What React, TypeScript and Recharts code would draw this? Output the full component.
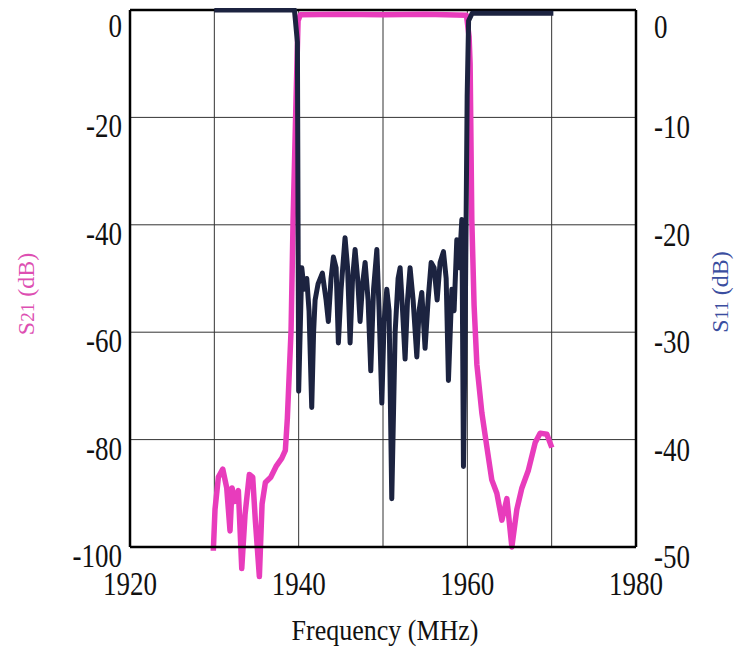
import { LineChart, Line, XAxis, YAxis, CartesianGrid, ReferenceLine } from 'recharts';

// S21 (magenta, left axis, dB)
const s21Freq = [
  1929.88, 1930.08, 1930.48, 1931.0, 1931.47, 1931.86, 1932.1, 1932.46, 1932.85, 1933.25,
  1933.64, 1934.15, 1934.55, 1934.86, 1935.34, 1935.66, 1936.05, 1936.69, 1937.32, 1937.99,
  1938.42, 1938.66, 1939.1, 1939.34, 1939.69, 1939.93, 1940.2, 1945, 1950, 1955,
  1959.9, 1960.21, 1960.33, 1960.53, 1960.8, 1961.13, 1961.72, 1962.31, 1962.9, 1963.5,
  1964.1, 1964.69, 1965.28, 1965.87, 1966.47, 1967.24, 1968.04, 1968.63, 1969.43, 1970.02,
];
const s21Db = [
  -100.7, -93, -87, -85.5, -89, -97, -89, -91.5, -89.5, -104,
  -94, -86.5, -87, -95, -105.5, -92, -88, -87, -85, -83.5,
  -82, -76, -59.6, -39, -16.7, -2, -0.9, -0.8, -0.9, -0.8,
  -1, -5, -10, -39, -55, -66, -75, -81.3, -87.5, -90,
  -95, -91, -100, -93, -89, -85.7, -80.6, -78.8, -79, -81.5,
];

// S11 (navy, right axis, dB)
const s11Freq = [
  1930.0, 1939.5, 1939.85, 1940.0, 1940.37, 1940.64, 1940.96, 1941.23, 1941.55, 1941.77,
  1941.95, 1942.3, 1942.81, 1943.25, 1943.52, 1943.84, 1944.12, 1944.44, 1944.71, 1945.03,
  1945.5, 1945.8, 1946.1, 1946.39, 1946.69, 1946.99, 1947.28, 1947.58, 1947.88, 1948.23,
  1948.55, 1948.88, 1949.27, 1949.54, 1949.86, 1950.13, 1950.45, 1950.72, 1951.04, 1951.44,
  1951.79, 1952.03, 1952.32, 1952.62, 1952.91, 1953.21, 1953.57, 1954.01, 1954.28, 1954.6,
  1954.99, 1955.35, 1955.71, 1956.06, 1956.42, 1956.77, 1957.17, 1957.49, 1957.76, 1958.16,
  1958.43, 1958.75, 1959.03, 1959.35, 1959.54, 1959.74, 1959.98, 1960.15, 1960.57, 1970.2,
];
const s11Db = [
  0, 0, -3, -35.5, -24, -26, -25, -28, -37, -30,
  -27, -25.5, -24.5, -27, -29, -25, -23, -24, -31, -26,
  -21.2, -24, -31, -25, -22.3, -25, -29, -25.5, -23.5, -27,
  -33.6, -26, -22.3, -28, -36.6, -29, -26, -28, -45.5, -30,
  -25, -24, -28, -32.5, -27, -24, -27, -32.3, -28, -26.3,
  -31.5, -27, -23.5, -24, -27, -23.5, -22.5, -25, -34.5, -26,
  -28, -21.4, -24, -19.5, -42.5, -30, -8, -1, -0.3, -0.3,
];

const freqTicks = [1920, 1930, 1940, 1950, 1960, 1970, 1980];
const s21Ticks = [-100, -80, -60, -40, -20, 0];
const s11Ticks = [-50, -40, -30, -20, -10, 0];

const s21Data = s21Freq.map((f, i) => ({ f, v: s21Db[i] }));
const s11Data = s11Freq.map((f, i) => ({ f, v: s11Db[i] }));

const FONT = '"Liberation Serif", "Times New Roman", serif';
const PINK = '#e83cbc';
const NAVY = '#1c2340';

function FreqTick({ x, y, payload }: any) {
  if (payload.value % 20 !== 0) return <g />;
  return (
    <text transform={`translate(${x},${y + 46}) scale(1,1.25)`} textAnchor="middle"
      fontFamily={FONT} fontSize={27} fill="#111">
      {payload.value}
    </text>
  );
}

function LeftTick({ x, y, payload }: any) {
  return (
    <text transform={`translate(${x - 6},${y + 20}) scale(1,1.25)`} textAnchor="end"
      fontFamily={FONT} fontSize={27} fill="#111">
      {payload.value}
    </text>
  );
}

function RightTick({ x, y, payload }: any) {
  return (
    <text transform={`translate(${x + 16},${y + 21}) scale(1,1.25)`} textAnchor="start"
      fontFamily={FONT} fontSize={27} fill="#111">
      {payload.value}
    </text>
  );
}

function SideTitle({ cx, cy, color, sub }: any) {
  return (
    <text transform={`translate(${cx},${cy}) rotate(-90)`} textAnchor="middle"
      fontFamily={FONT} fontSize={24} fill={color}>
      S<tspan fontSize={19}>{sub}</tspan> (dB)
    </text>
  );
}

function BottomTitle() {
  return (
    <text transform="translate(377,632) scale(1,1.15)" textAnchor="middle"
      fontFamily={FONT} fontSize={26} fill="#111">
      Frequency (MHz)
    </text>
  );
}

export default function App() {
  return (
    <div style={{ height: 639 }}>
      <style>{`.recharts-surface * { clip-path: none !important; }`}</style>
      <LineChart width={731} height={647} margin={{ top: 2, right: 0, bottom: 0, left: 0 }}>
        <CartesianGrid yAxisId="left" stroke="#333" strokeWidth={1} />
        <XAxis
          type="number" dataKey="f" domain={[1920, 1980]} ticks={freqTicks}
          height={108} tickSize={0} tickLine={false} tick={<FreqTick />}
          axisLine={{ stroke: '#000', strokeWidth: 2.5 }}
          label={<BottomTitle />}
        />
        <YAxis
          yAxisId="left" type="number" domain={[-100, 0]} ticks={s21Ticks} allowDataOverflow
          width={122} tickSize={0} tickLine={false} tick={<LeftTick />}
          axisLine={{ stroke: '#000', strokeWidth: 2.5 }}
          label={<SideTitle cx={26} cy={286} color="#dd4fb2" sub="21" />}
        />
        <YAxis
          yAxisId="right" orientation="right" type="number" domain={[-50, 0]} ticks={s11Ticks}
          allowDataOverflow width={103} tickSize={0} tickLine={false} tick={<RightTick />}
          axisLine={{ stroke: '#000', strokeWidth: 2.5 }}
          label={<SideTitle cx={720} cy={284} color="#3b4ea0" sub="11" />}
        />
        <ReferenceLine yAxisId="left" y={0} stroke="#000" strokeWidth={2.5} />
        <Line
          yAxisId="left" data={s21Data} dataKey="v" type="linear" stroke={PINK}
          strokeWidth={5.5} dot={false} strokeLinejoin="round" isAnimationActive={false}
        />
        <Line
          yAxisId="right" data={s11Data} dataKey="v" type="linear" stroke={NAVY}
          strokeWidth={5} dot={false} strokeLinejoin="round" isAnimationActive={false}
        />
      </LineChart>
    </div>
  );
}
